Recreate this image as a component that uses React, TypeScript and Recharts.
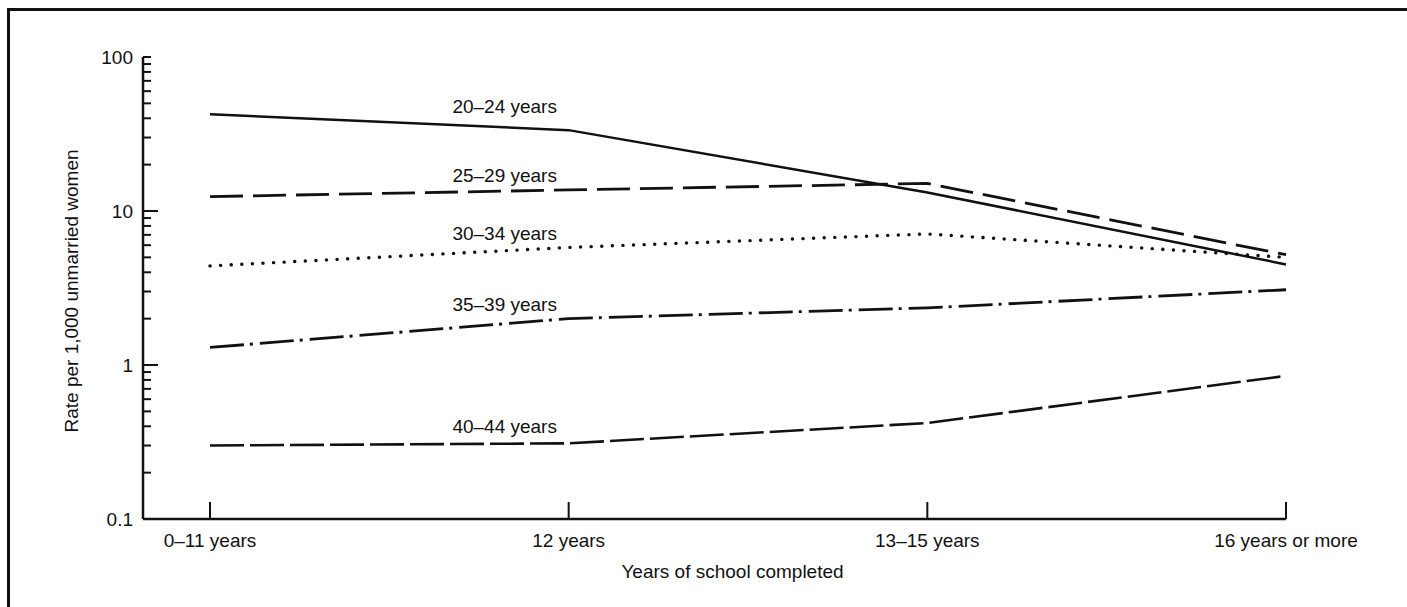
import React from 'react';
import { LineChart, Line, XAxis, YAxis, LabelList } from 'recharts';

// Years of school completed (x categories)
const categories = ['0–11 years', '12 years', '13–15 years', '16 years or more'];

// Rate per 1,000 unmarried women, by age group
const age20to24 = [42.5, 33.5, 13.2, 4.5];
const age25to29 = [12.4, 13.7, 15.1, 5.2];
const age30to34 = [4.4, 5.8, 7.1, 5.0];
const age35to39 = [1.3, 2.0, 2.35, 3.08];
const age40to44 = [0.3, 0.31, 0.42, 0.85];

const seriesNames = ['20–24 years', '25–29 years', '30–34 years', '35–39 years', '40–44 years'];

// log axis ticks: labelled decades plus minor ticks
const majorTicks = [0.1, 1, 10, 100];
const minorTicks = [
  0.2, 0.3, 0.4, 0.5, 0.6, 0.7, 0.8, 0.9,
  2, 3, 4, 5, 6, 7, 8, 9,
  20, 30, 40, 50, 60, 70, 80, 90,
];

const data = categories.map((cat, i) => ({
  cat,
  a: age20to24[i],
  b: age25to29[i],
  c: age30to34[i],
  d: age35to39[i],
  e: age40to44[i],
}));

const FONT = '"Liberation Sans", Arial, Helvetica, sans-serif';
const FS = 19;
const INK = '#111';
const W = 1407;
const H = 607;
const MARGIN = { top: 57, right: 121, bottom: 28, left: 8 };
const Y_AXIS_W = 135;
const AXIS_X = MARGIN.left + Y_AXIS_W;
const PLOT_BOTTOM = 519;

const lines = [
  { key: 'a', name: seriesNames[0], dash: undefined, width: 2.5, labelUp: 17 },
  { key: 'b', name: seriesNames[1], dash: '33 10', width: 2.8, labelUp: 8 },
  { key: 'c', name: seriesNames[2], dash: '0.1 10.5', width: 3.4, labelUp: 7, round: true },
  { key: 'd', name: seriesNames[3], dash: '34 6 3 7', width: 2.8, labelUp: 8 },
  { key: 'e', name: seriesNames[4], dash: '34 6', width: 2.6, labelUp: 10 },
];

const YTick = (props: any) => {
  const { y, payload } = props;
  const v = payload.value;
  const isMajor = majorTicks.includes(v);
  const len = v === 1 || v === 10 ? 15 : 8;
  return (
    <g>
      {v !== 0.1 && (
        <line x1={AXIS_X} x2={AXIS_X + len} y1={y} y2={y} stroke={INK} strokeWidth={2} />
      )}
      {isMajor && (
        <text x={AXIS_X - 10} y={y} dy={7} textAnchor="end" fontSize={FS} fontFamily={FONT} fill={INK}>
          {String(v)}
        </text>
      )}
    </g>
  );
};

const XTick = (props: any) => {
  const { x, payload } = props;
  return (
    <g>
      <line x1={x} x2={x} y1={PLOT_BOTTOM} y2={PLOT_BOTTOM - 17} stroke={INK} strokeWidth={2} />
      <text x={x} y={PLOT_BOTTOM + 28} textAnchor="middle" fontSize={FS} fontFamily={FONT} fill={INK}>
        {payload.value}
      </text>
    </g>
  );
};

const seriesLabel = (name: string, up: number) => (props: any) => {
  const { x, y, index } = props;
  if (index !== 1) return null;
  return (
    <text x={x - 64} y={y - up} textAnchor="middle" fontSize={FS} fontFamily={FONT} fill={INK}>
      {name}
    </text>
  );
};

export default function App() {
  return (
    <div style={{ position: 'absolute', left: 0, top: 0, width: W, height: H, background: '#fff', overflow: 'hidden' }}>
      <LineChart
        width={W}
        height={H}
        data={data}
        margin={MARGIN}
        accessibilityLayer={false}
        style={{ outline: 'none' }}
      >
        {/* scan frame: top and left rules */}
        <line x1={7} x2={W} y1={9.5} y2={9.5} stroke={INK} strokeWidth={3} />
        <line x1={8.5} x2={8.5} y1={8} y2={H} stroke={INK} strokeWidth={3} />
        <XAxis
          dataKey="cat"
          padding={{ left: 67, right: 0 }}
          axisLine={{ stroke: INK, strokeWidth: 2.5 }}
          tickLine={false}
          tick={<XTick />}
          interval={0}
          height={60}
          label={{
            content: ({ viewBox }: any) => (
              <text
                x={viewBox.x + viewBox.width / 2 + 18}
                y={PLOT_BOTTOM + 59}
                textAnchor="middle"
                fontSize={FS}
                fontFamily={FONT}
                fill={INK}
              >
                Years of school completed
              </text>
            ),
          }}
        />
        <YAxis
          scale="log"
          domain={[0.1, 100]}
          allowDataOverflow
          ticks={[...majorTicks, ...minorTicks].sort((p, q) => p - q)}
          interval={0}
          width={Y_AXIS_W}
          axisLine={{ stroke: INK, strokeWidth: 2.5 }}
          tickLine={false}
          tick={<YTick />}
          label={{
            content: () => (
              <text
                x={78}
                y={291}
                transform="rotate(-90, 78, 291)"
                textAnchor="middle"
                fontSize={FS}
                fontFamily={FONT}
                fill={INK}
              >
                Rate per 1,000 unmarried women
              </text>
            ),
          }}
        />
        {lines.map((l) => (
          <Line
            key={l.key}
            dataKey={l.key}
            name={l.name}
            type="linear"
            stroke={INK}
            strokeWidth={l.width}
            strokeDasharray={l.dash}
            strokeLinecap={l.round ? 'round' : 'butt'}
            dot={false}
            activeDot={false}
            isAnimationActive={false}
          >
            <LabelList dataKey={l.key} content={seriesLabel(l.name, l.labelUp)} />
          </Line>
        ))}
      </LineChart>
    </div>
  );
}
